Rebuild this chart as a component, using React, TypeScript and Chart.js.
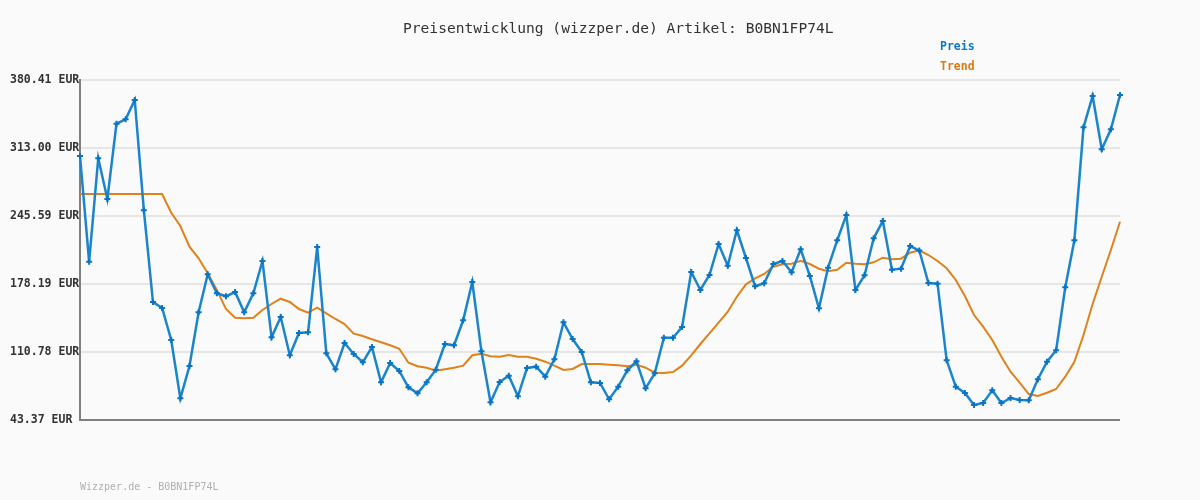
import React, { useEffect, useRef } from "react";
import { Chart, registerables } from "chart.js";

Chart.register(...registerables);

const TITLE = "Preisentwicklung (wizzper.de) Artikel: B0BN1FP74L";
const FOOTER = "Wizzper.de - B0BN1FP74L";
const SERIES_NAMES = ["Preis", "Trend"];
const Y_TICKS = [43.37, 110.78, 178.19, 245.59, 313.0, 380.41];

const PRICE = [
  305.07, 200.29, 302.79, 262.44, 337.09, 341.45, 360.58, 251.24, 160.34, 154.39,
  122.67, 64.88, 96.9, 150.13, 187.8, 168.97, 165.99, 170.26, 150.13, 168.97,
  200.99, 125.35, 145.47, 107.51, 129.61, 130.31, 214.86, 109.49, 93.63, 119.7,
  108.8, 100.57, 115.73, 80.74, 99.87, 91.94, 75.79, 69.84, 80.74, 93.23,
  118.71, 117.42, 142.2, 180.17, 111.47, 60.92, 81.04, 87.28, 66.86, 94.92,
  96.21, 86.29, 103.54, 140.22, 123.66, 110.78, 80.74, 80.05, 63.89, 76.38,
  92.64, 101.56, 74.79, 89.66, 124.95, 124.95, 135.56, 190.08, 172.24, 187.11,
  217.84, 196.33, 231.42, 203.96, 175.91, 178.88, 198.01, 200.99, 189.78, 212.58,
  186.12, 154.1, 194.34, 221.5, 246.58, 172.24, 186.81, 223.49, 240.64, 192.36,
  193.35, 215.85, 211.39, 179.18, 178.48, 102.55, 76.38, 70.13, 58.24, 60.22,
  72.81, 60.22, 65.18, 63.2, 62.9, 83.72, 101.16, 112.46, 174.91, 221.5,
  333.52, 364.55, 311.71, 331.54, 365.54,
];

const TREND = [
  267.4, 267.4, 267.4, 267.4, 267.4, 267.4, 267.4, 267.4, 267.4, 267.4,
  248.86, 235.68, 215.16, 203.66, 188.79, 172.24, 153.4, 144.78, 144.18, 144.78,
  152.41, 158.36, 163.61, 160.34, 153.4, 149.74, 154.69, 149.14, 143.49, 138.53,
  128.92, 126.64, 123.37, 120.39, 117.42, 114.05, 100.17, 96.6, 95.22, 92.24,
  93.63, 95.22, 97.2, 107.51, 109.09, 106.52, 106.12, 107.8, 106.12, 106.12,
  104.14, 101.16, 97.2, 92.93, 93.93, 98.88, 98.88, 98.88, 98.19, 97.59,
  96.6, 98.19, 95.22, 90.26, 89.96, 90.95, 97.2, 107.51, 118.71, 129.31,
  139.82, 150.73, 165.6, 177.89, 183.84, 188.1, 195.33, 197.71, 198.31, 201.28,
  198.01, 193.35, 190.78, 192.36, 199.3, 198.31, 197.71, 199.7, 204.26, 202.67,
  203.26, 209.21, 211.59, 206.93, 200.99, 193.75, 182.15, 166.29, 147.46, 135.86,
  122.67, 106.12, 91.25, 80.34, 69.14, 67.16, 70.43, 74.1, 86.29, 101.16,
  127.63, 158.36, 185.42, 211.89, 239.94,
];

const BLUE = "#1a84cc";
const BLUE_DARK = "#0a74c4";
const ORANGE = "#e0821a";
const MONO = "'DejaVu Sans Mono', 'Liberation Mono', monospace";

export default function App() {
  const ref = useRef<HTMLCanvasElement | null>(null);

  useEffect(() => {
    if (!ref.current) return;
    const textPlugin = {
      id: "texts",
      beforeDraw(chart: any) {
        const c = chart.ctx;
        c.save();
        c.fillStyle = "#fafafa";
        c.fillRect(0, 0, chart.width, chart.height);
        c.restore();
      },
      afterDraw(chart: any) {
        const c = chart.ctx;
        c.save();
        c.textBaseline = "middle";
        c.textAlign = "left";
        c.font = `14.6px ${MONO}`;
        c.fillStyle = "#333333";
        c.fillText(TITLE, 403, 29);
        c.font = `bold 11.5px ${MONO}`;
        c.fillStyle = "#0b78c8";
        c.fillText(SERIES_NAMES[0], 940, 47);
        c.fillStyle = "#e07a10";
        c.fillText(SERIES_NAMES[1], 940, 67);
        c.font = `10px ${MONO}`;
        c.fillStyle = "#b0b0b0";
        c.fillText(FOOTER, 80, 487);
        c.restore();
      },
    };

    const labels = PRICE.map((_, i) => i);
    const chart = new Chart(ref.current, {
      type: "line",
      data: {
        labels,
        datasets: [
          {
            label: SERIES_NAMES[1],
            data: TREND,
            borderColor: ORANGE,
            borderWidth: 2,
            pointRadius: 0,
            tension: 0,
            order: 2,
          },
          {
            label: SERIES_NAMES[0],
            data: PRICE,
            borderColor: BLUE,
            borderWidth: 2.5,
            pointStyle: "cross",
            pointRadius: 3,
            pointBorderWidth: 2,
            pointBorderColor: BLUE_DARK,
            pointBackgroundColor: BLUE_DARK,
            tension: 0,
            order: 1,
          },
        ],
      },
      options: {
        responsive: false,
        animation: false,
        devicePixelRatio: 1,
        layout: { padding: { left: 10, top: 80, right: 80, bottom: 80 } },
        plugins: {
          legend: { display: false },
          title: { display: false },
          tooltip: { enabled: false },
        },
        scales: {
          x: {
            type: "category",
            display: false,
            offset: false,
          },
          y: {
            min: Y_TICKS[0],
            max: Y_TICKS[Y_TICKS.length - 1],
            afterBuildTicks: (scale: any) => {
              scale.ticks = Y_TICKS.map((v) => ({ value: v }));
            },
            afterFit: (scale: any) => {
              scale.width = 70;
            },
            border: { display: true, color: "#808080", width: 2 },
            grid: {
              drawTicks: false,
              lineWidth: 2,
              color: (ctx: any) =>
                ctx.tick && ctx.tick.value === Y_TICKS[0] ? "#808080" : "#e6e6e6",
            },
            ticks: {
              crossAlign: "far",
              padding: 0,
              color: "#333333",
              font: { family: MONO, size: 11.5, weight: "bold" },
              callback: (v: any) => Number(v).toFixed(2) + " EUR",
            },
          },
        },
      },
      plugins: [textPlugin],
    } as any);
    return () => chart.destroy();
  }, []);

  return (
    <div style={{ position: "absolute", left: 0, top: 0, width: 1200, height: 500 }}>
      <canvas ref={ref} width={1200} height={500} />
    </div>
  );
}
